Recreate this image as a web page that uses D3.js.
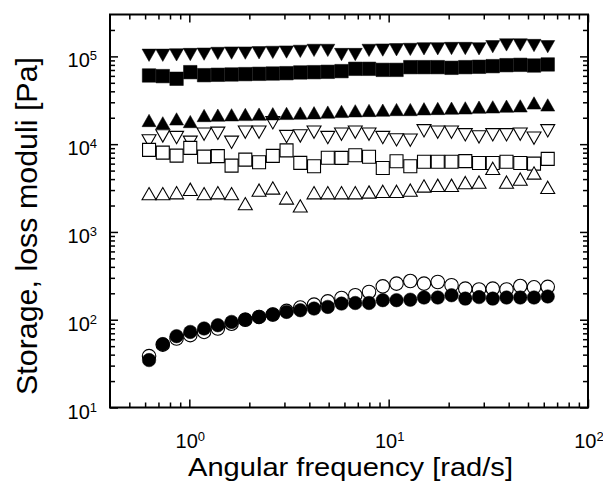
<!DOCTYPE html>
<html><head><meta charset="utf-8">
<script src="https://cdn.jsdelivr.net/npm/d3@7"></script>
<style>
body{margin:0;background:#fff}
svg{display:block}
text{font-family:"Liberation Sans",Arial,Helvetica,sans-serif;fill:#000}
</style>
</head><body>
<svg id="chart" width="603" height="482"></svg>
<script>
// angular frequency [rad/s]
const freq = [0.628,0.736,0.863,1.011,1.186,1.390,1.629,1.909,2.238,2.623,3.074,3.603,4.223,4.950,5.800,6.799,7.970,9.343,10.95,12.84,15.04,17.63,20.67,24.23,28.40,33.28,39.01,45.73,53.60,62.80];

// filled down triangles
const filledDown = [1.03e5,1.03e5,1.04e5,1.05e5,1.06e5,1.08e5,1.09e5,1.09e5,1.10e5,1.11e5,1.12e5,1.14e5,1.17e5,1.17e5,1.05e5,1.05e5,1.17e5,1.18e5,1.19e5,1.20e5,1.22e5,1.22e5,1.23e5,1.23e5,1.22e5,1.29e5,1.35e5,1.35e5,1.33e5,1.29e5];
// filled squares
const filledSquare = [6.06e4,5.96e4,5.56e4,6.61e4,6.11e4,6.17e4,6.22e4,6.28e4,6.33e4,6.38e4,6.44e4,6.56e4,6.61e4,6.67e4,6.79e4,7.22e4,7.22e4,7.02e4,7.02e4,7.54e4,7.54e4,7.54e4,7.41e4,7.54e4,7.61e4,7.74e4,7.94e4,8.01e4,7.87e4,8.09e4];
// filled up triangles
const filledUp = [1.86e4,1.75e4,1.94e4,1.81e4,2.12e4,2.14e4,2.16e4,2.18e4,2.20e4,2.22e4,2.24e4,2.26e4,2.28e4,2.32e4,2.36e4,2.40e4,2.42e4,2.44e4,2.48e4,2.48e4,2.53e4,2.55e4,2.57e4,2.59e4,2.64e4,2.66e4,2.71e4,2.73e4,2.95e4,2.80e4];
// open down triangles
const openDown = [1.09e4,1.24e4,1.19e4,1.05e4,1.30e4,1.33e4,1.05e4,1.37e4,1.37e4,1.75e4,1.22e4,1.24e4,1.37e4,1.19e4,1.30e4,1.37e4,1.30e4,1.19e4,1.12e4,1.11e4,1.42e4,1.37e4,1.37e4,1.28e4,1.21e4,1.28e4,1.28e4,1.30e4,1.17e4,1.42e4];
// open squares
const openSquare = [8.6e3,8.0e3,7.41e3,9.07e3,7.22e3,7.3e3,5.7e3,6.67e3,6.22e3,7.35e3,8.5e3,6.12e3,5.6e3,7.0e3,6.97e3,7.47e3,7.2e3,5.36e3,6.38e3,5.6e3,6.3e3,6.3e3,6.3e3,6.4e3,6.1e3,6.1e3,6.3e3,6.1e3,6.0e3,6.8e3];
// open up triangles
const openUp = [2.73e3,2.73e3,2.80e3,3.06e3,2.73e3,2.80e3,2.73e3,2.10e3,3.00e3,3.17e3,2.44e3,1.98e3,2.80e3,2.80e3,2.80e3,2.80e3,2.85e3,2.90e3,2.90e3,3.00e3,3.34e3,3.40e3,3.40e3,3.65e3,3.70e3,5.30e3,3.70e3,4.00e3,4.70e3,3.22e3];
// open circles
const openCircle = [38.5,52,61,66.7,72.6,79.4,90,100,107.6,114.6,126,137.6,148.6,162,177,190,207,240,258,276,258,269,247,226,221,226,221,242,234,237];
// filled circles
const filledCircle = [34.7,52.7,64.9,72.6,79.4,86.6,94.4,100.4,107.6,114.6,122.8,128.3,134,140,152.7,155,155,167,167,169,179,179,190,174,181,174,179,179,179,184];

const xMajorTicks = [1, 10, 100];
const xMinorTicks = [0.5,0.6,0.7,0.8,0.9,2,3,4,5,6,7,8,9,20,30,40,50,60,70,80,90];
const yMajorTicks = [10, 100, 1000, 10000, 100000];
const yMinorTicks = [20,30,40,50,60,70,80,90,200,300,400,500,600,700,800,900,2000,3000,4000,5000,6000,7000,8000,9000,20000,30000,40000,50000,60000,70000,80000,90000,200000];
const xTickExp = ["0","1","2"];
const yTickExp = ["1","2","3","4","5"];
const xTitle = "Angular frequency [rad/s]";
const yTitle = "Storage, loss moduli [Pa]";

const L = 110, R = 588, T = 14.5, B = 407.5;
const svg = d3.select("#chart");
svg.append("rect").attr("width",603).attr("height",482).attr("fill","#fff");

const x = d3.scaleLog().domain([0.4, 100]).range([L, R]);
const y = d3.scaleLog().domain([10, 3e5]).range([B, T]);

// marker shapes
const triUp = {draw(c, s){ const w = s, h = s*0.88; c.moveTo(0,-h/2); c.lineTo(w/2,h/2); c.lineTo(-w/2,h/2); c.closePath(); }};
const triDown = {draw(c, s){ const w = s, h = s*0.88; c.moveTo(0,h/2); c.lineTo(w/2,-h/2); c.lineTo(-w/2,-h/2); c.closePath(); }};
const square = {draw(c, s){ c.rect(-s/2,-s/2,s,s); }};
const circle = {draw(c, s){ c.moveTo(s/2,0); c.arc(0,0,s/2,0,2*Math.PI); }};

function plot(vals, type, size, filled){
  const sym = d3.symbol().type(type).size(size);
  svg.append("g").selectAll("path").data(vals).join("path")
    .attr("transform",(d,i)=>`translate(${x(freq[i])},${y(d)})`)
    .attr("d", sym)
    .attr("fill", filled ? "#000" : "#fff")
    .attr("stroke", "#000")
    .attr("stroke-width", filled ? 0.5 : 1.1);
}
plot(openDown, triDown, 14, false);
plot(openSquare, square, 13, false);
plot(openUp, triUp, 14, false);
plot(filledDown, triDown, 14, true);
plot(filledSquare, square, 13.5, true);
plot(filledUp, triUp, 14, true);
plot(openCircle, circle, 13.5, false);
plot(filledCircle, circle, 13.5, true);

// axes with inward ticks on all four sides
function ax(gen, scale, vals, size, tx){
  const g = svg.append("g").attr("transform", tx)
    .call(gen(scale).tickValues(vals).tickSize(size).tickFormat(""));
  g.select(".domain").remove();
  g.selectAll(".tick line").attr("stroke","#000").attr("stroke-width",1.5);
}
ax(d3.axisTop, x, xMajorTicks, 8, `translate(0,${B})`);
ax(d3.axisTop, x, xMinorTicks, 5, `translate(0,${B})`);
ax(d3.axisBottom, x, xMajorTicks, 8, `translate(0,${T})`);
ax(d3.axisBottom, x, xMinorTicks, 5, `translate(0,${T})`);
ax(d3.axisRight, y, yMajorTicks, 8, `translate(${L},0)`);
ax(d3.axisRight, y, yMinorTicks, 5, `translate(${L},0)`);
ax(d3.axisLeft, y, yMajorTicks, 8, `translate(${R},0)`);
ax(d3.axisLeft, y, yMinorTicks, 5, `translate(${R},0)`);

svg.append("rect").attr("x",L).attr("y",T).attr("width",R-L).attr("height",B-T)
  .attr("fill","none").attr("stroke","#000").attr("stroke-width",2);

// tick labels
xMajorTicks.forEach((v,i)=>{
  const t = svg.append("text").attr("x", x(v)+1).attr("y", 448)
    .attr("text-anchor","middle").attr("font-size",20);
  t.append("tspan").text("10");
  t.append("tspan").attr("font-size",13).attr("dy",-7).text(xTickExp[i]);
});
yMajorTicks.forEach((v,i)=>{
  const t = svg.append("text").attr("x", 97).attr("y", y(v)+11)
    .attr("text-anchor","end").attr("font-size",20);
  t.append("tspan").text("10");
  t.append("tspan").attr("font-size",13).attr("dy",-7).text(yTickExp[i]);
});

// titles
svg.append("text").attr("x", 188).attr("y", 476).attr("font-size",25)
  .attr("textLength",325).attr("lengthAdjust","spacingAndGlyphs").text(xTitle);
svg.append("text").attr("transform","translate(37,226) rotate(-90)")
  .attr("text-anchor","middle").attr("font-size",29)
  .attr("textLength",338).attr("lengthAdjust","spacingAndGlyphs").text(yTitle);
</script>
</body></html>
